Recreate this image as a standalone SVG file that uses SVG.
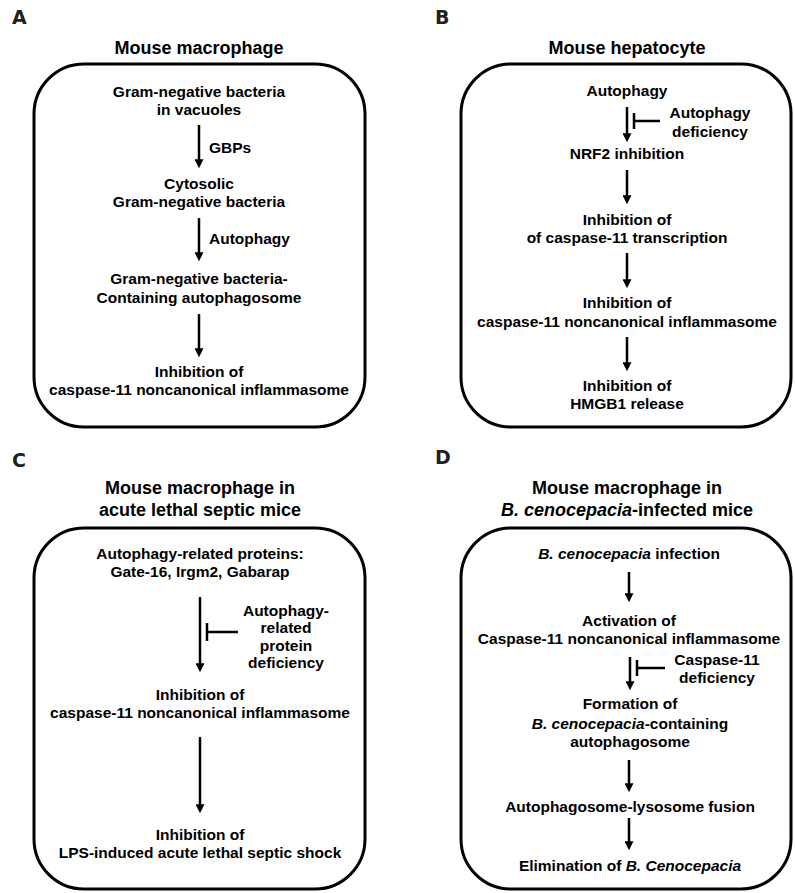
<svg xmlns="http://www.w3.org/2000/svg" width="795" height="893" viewBox="0 0 795 893">
<defs>
<style>
.lbl{font-family:"DejaVu Sans","Liberation Sans",sans-serif;font-weight:bold;font-size:19px;fill:#231f20}
.ttl{font-family:"Liberation Sans",Arial,sans-serif;font-weight:bold;font-size:18px;fill:#000;text-anchor:middle}
.t{font-family:"Liberation Sans",Arial,sans-serif;font-weight:bold;font-size:15.5px;fill:#000;text-anchor:middle}
.box{fill:none;stroke:#000;stroke-width:3}
.arr{stroke:#000;stroke-width:2.5;fill:none;marker-end:url(#ah)}
.inh{stroke:#000;stroke-width:2.5;fill:none}
</style>
<marker id="ah" viewBox="0 0 10 10" refX="2" refY="5" markerWidth="9" markerHeight="9" markerUnits="userSpaceOnUse" orient="auto">
<path d="M0,0 L10,5 L0,10 z" fill="#000"/>
</marker>
</defs>
<rect width="795" height="893" fill="#fff"/>

<g id="panelA">
<text class="lbl" x="12" y="24">A</text>
<text class="ttl" x="199" y="54">Mouse macrophage</text>
<rect class="box" x="34" y="64" width="331" height="363" rx="50" ry="50"/>
<g id="A1"><text class="t" x="199" y="97">Gram-negative bacteria</text><text class="t" x="199" y="115">in vacuoles</text></g>
<g id="A2"><text class="t" x="199" y="189">Cytosolic</text><text class="t" x="199" y="207">Gram-negative bacteria</text></g>
<g id="A3"><text class="t" x="199" y="284">Gram-negative bacteria-</text><text class="t" x="199" y="303">Containing autophagosome</text></g>
<g id="A4"><text class="t" x="199" y="377">Inhibition of</text><text class="t" x="199" y="395">caspase-11 noncanonical inflammasome</text></g>
<text class="t" x="209" y="153" style="text-anchor:start">GBPs</text>
<text class="t" x="209" y="244" style="text-anchor:start">Autophagy</text>
</g>

<g id="panelB">
<text class="lbl" x="435" y="24">B</text>
<text class="ttl" x="627" y="54">Mouse hepatocyte</text>
<rect class="box" x="461" y="64" width="330" height="363" rx="50" ry="50"/>
<g id="B1"><text class="t" x="627" y="96">Autophagy</text></g>
<g id="B2"><text class="t" x="627" y="159">NRF2 inhibition</text></g>
<g id="B3"><text class="t" x="627" y="225">Inhibition of</text><text class="t" x="627" y="243">of caspase-11 transcription</text></g>
<g id="B4"><text class="t" x="627" y="308">Inhibition of</text><text class="t" x="627" y="327">caspase-11 noncanonical inflammasome</text></g>
<g id="B5"><text class="t" x="627" y="391">Inhibition of</text><text class="t" x="627" y="409">HMGB1 release</text></g>
<g id="Bdef"><text class="t" x="710" y="118">Autophagy</text><text class="t" x="710" y="137">deficiency</text></g>
</g>

<g id="panelC">
<text class="lbl" x="12" y="467">C</text>
<text class="ttl" x="200" y="494">Mouse macrophage in</text>
<text class="ttl" x="200" y="516">acute lethal septic mice</text>
<rect class="box" x="34" y="528" width="331" height="361" rx="50" ry="50"/>
<g id="C1"><text class="t" x="200" y="559">Autophagy-related proteins:</text><text class="t" x="200" y="577">Gate-16, Irgm2, Gabarap</text></g>
<g id="C2"><text class="t" x="200" y="700">Inhibition of</text><text class="t" x="200" y="718">caspase-11 noncanonical inflammasome</text></g>
<g id="C3"><text class="t" x="200" y="840">Inhibition of</text><text class="t" x="200" y="858">LPS-induced acute lethal septic shock</text></g>
<g id="Cdef"><text class="t" x="286" y="616">Autophagy-</text><text class="t" x="286" y="633">related</text><text class="t" x="286" y="651">protein</text><text class="t" x="286" y="668">deficiency</text></g>
</g>

<g id="panelD">
<text class="lbl" x="435" y="464">D</text>
<text class="ttl" x="627" y="494">Mouse macrophage in</text>
<text class="ttl" x="627" y="516"><tspan font-style="italic">B. cenocepacia</tspan>-infected mice</text>
<rect class="box" x="461" y="528" width="330" height="361" rx="50" ry="50"/>
<g id="D1"><text class="t" x="629" y="559"><tspan font-style="italic">B. cenocepacia</tspan> infection</text></g>
<g id="D2"><text class="t" x="629" y="626">Activation of</text><text class="t" x="629" y="644">Caspase-11 noncanonical inflammasome</text></g>
<g id="D3"><text class="t" x="630" y="709">Formation of</text><text class="t" x="630" y="729"><tspan font-style="italic">B. cenocepacia</tspan>-containing</text><text class="t" x="630" y="747">autophagosome</text></g>
<g id="D4"><text class="t" x="630" y="812">Autophagosome-lysosome fusion</text></g>
<g id="D5"><text class="t" x="630" y="871">Elimination of <tspan font-style="italic">B. Cenocepacia</tspan></text></g>
<g id="Ddef"><text class="t" x="717" y="665">Caspase-11</text><text class="t" x="717" y="683">deficiency</text></g>
</g>

<g id="connectors">
<line class="arr" x1="199" y1="125" x2="199" y2="161"/>
<line class="arr" x1="199" y1="218" x2="199" y2="254"/>
<line class="arr" x1="199" y1="314" x2="199" y2="350"/>

<line class="arr" x1="627" y1="107" x2="627" y2="135"/>
<line class="arr" x1="627" y1="170" x2="627" y2="197"/>
<line class="arr" x1="627" y1="253" x2="627" y2="281"/>
<line class="arr" x1="627" y1="337" x2="627" y2="364"/>
<path class="inh" d="M634,113 V129 M634,121 H660"/>

<line class="arr" x1="200" y1="597" x2="200" y2="665"/>
<line class="arr" x1="200" y1="737" x2="200" y2="806"/>
<path class="inh" d="M207,623 V641 M207,632 H238"/>

<line class="arr" x1="629" y1="572" x2="629" y2="595"/>
<line class="arr" x1="630" y1="657" x2="630" y2="683"/>
<line class="arr" x1="629" y1="760" x2="629" y2="785"/>
<line class="arr" x1="629" y1="818" x2="629" y2="843"/>
<path class="inh" d="M637,660 V676 M637,668 H665"/>
</g>
</svg>
